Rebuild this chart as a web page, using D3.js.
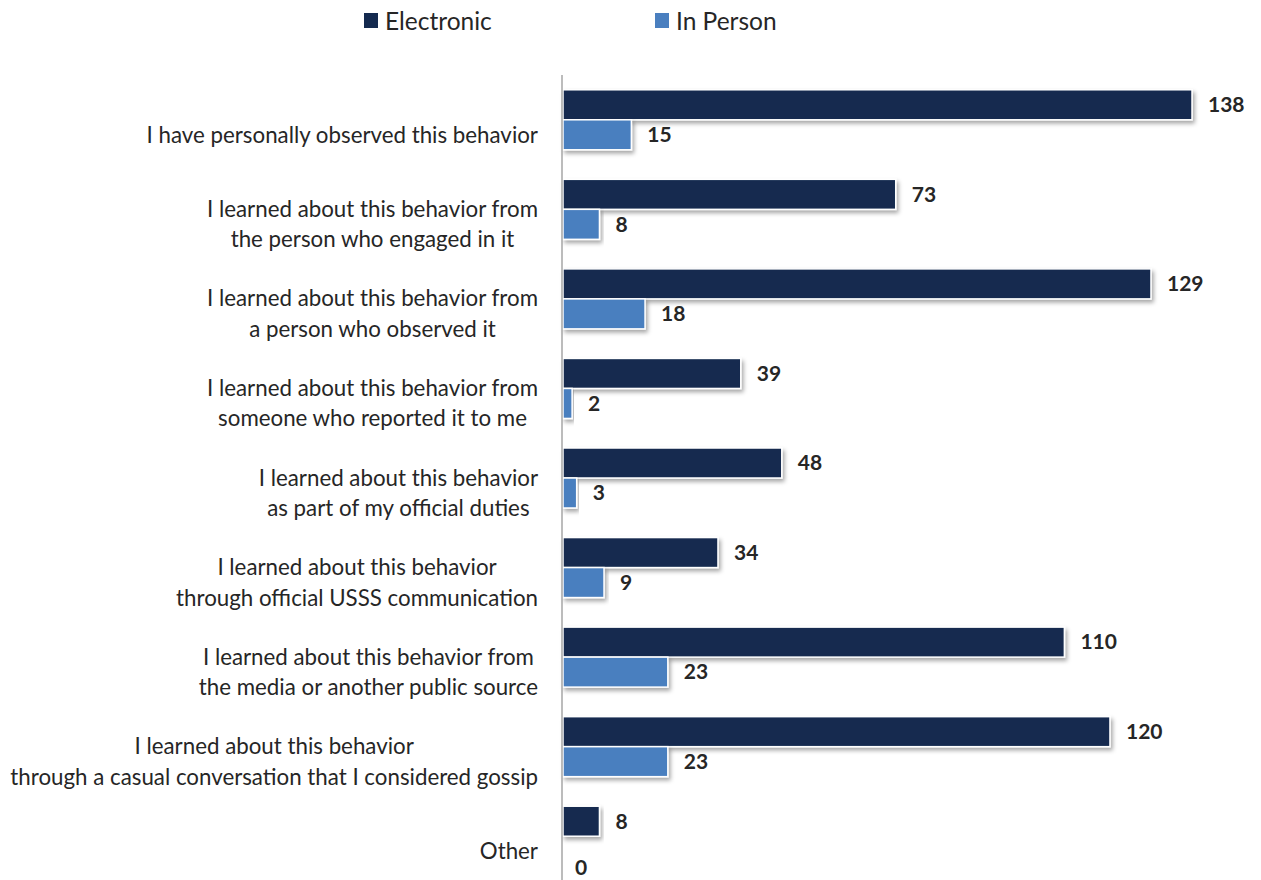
<!DOCTYPE html>
<html>
<head>
<meta charset="utf-8">
<script src="https://cdn.jsdelivr.net/npm/d3@7/dist/d3.min.js"></script>
<style>
  html, body { margin: 0; padding: 0; background: #ffffff; }
  svg { display: block; }
  text { font-family: Lato, "Open Sans", sans-serif; fill: #262626; }
</style>
</head>
<body>
<svg id="chart" width="1261" height="880"></svg>
<script>
// Response categories (each entry is a list of the label's lines)
const categories = [
  ["I have personally observed this behavior"],
  ["I learned about this behavior from", "the person who engaged in it"],
  ["I learned about this behavior from", "a person who observed it"],
  ["I learned about this behavior from", "someone who reported it to me"],
  ["I learned about this behavior", "as part of my official duties"],
  ["I learned about this behavior", "through official USSS communication"],
  ["I learned about this behavior from", "the media or another public source"],
  ["I learned about this behavior", "through a casual conversation that I considered gossip"],
  ["Other"]
];
const seriesNames = ["Electronic", "In Person"];
const electronic = [138, 73, 129, 39, 48, 34, 110, 120, 8];
const inPerson = [15, 8, 18, 2, 3, 9, 23, 23, 0];

const colors = { "Electronic": "#142a4f", "In Person": "#4a7fbf" };

const rows = categories.map((c, i) => ({
  key: i,
  lines: c,
  values: [
    { series: "Electronic", value: electronic[i] },
    { series: "In Person", value: inPerson[i] }
  ]
}));

const svg = d3.select("#chart");

// drop shadow for the bars
const defs = svg.append("defs");
const f = defs.append("filter").attr("id", "shadow")
  .attr("x", "-5%").attr("y", "-20%").attr("width", "115%").attr("height", "160%");
f.append("feDropShadow").attr("dx", 2).attr("dy", 3).attr("stdDeviation", 2)
  .attr("flood-color", "#000").attr("flood-opacity", 0.35);

const x0 = 563;
const x = d3.scaleLinear().domain([0, 140]).range([x0, x0 + 140 * 4.558]);
const y = d3.scaleBand().domain(rows.map(r => r.key)).range([75, 881]).padding(0);
const ySub = d3.scaleBand().domain(seriesNames).range([0, 60]);
const bandOffset = (y.bandwidth() - 60) / 2;

// bars
const groups = svg.append("g").selectAll("g.row").data(rows).join("g")
  .attr("class", "row")
  .attr("transform", r => `translate(0,${y(r.key) + bandOffset})`);

groups.selectAll("rect").data(r => r.values).join("rect")
  .attr("x", x(0))
  .attr("y", d => ySub(d.series))
  .attr("width", d => Math.max(0, x(d.value) - x(0)))
  .attr("height", ySub.bandwidth())
  .attr("fill", d => colors[d.series])
  .attr("stroke", "#ffffff")
  .attr("stroke-width", 1.5)
  .attr("filter", "url(#shadow)");

// value labels (an empty bar gets its label set just below the bar slot)
groups.selectAll("text.val").data(r => r.values).join("text")
  .attr("class", "val")
  .attr("x", d => x(d.value) + (d.value === 0 ? 12 : 16))
  .attr("y", d => ySub(d.series) + ySub.bandwidth() / 2 + (d.value === 0 ? 16 : 0))
  .attr("dy", "0.35em")
  .style("font-weight", "bold")
  .style("font-size", "21px")
  .text(d => d.value);

// vertical axis line
svg.append("line")
  .attr("x1", x0 - 1).attr("x2", x0 - 1)
  .attr("y1", 75).attr("y2", 880)
  .attr("stroke", "#a6a6a6").attr("stroke-width", 1.5);

// category labels: lines centred on each other, block right edge aligned
const labelRight = 538;
const labelSize = 22.3;
const lineH = 30.5;
const labels = svg.append("g").selectAll("g.lab").data(rows).join("g").attr("class", "lab");
labels.each(function (r) {
  const g = d3.select(this);
  const cy = y(r.key) + y.bandwidth() / 2 + 15;
  const n = r.lines.length;
  const texts = g.selectAll("text").data(r.lines).join("text")
    .style("font-size", labelSize + "px")
    .attr("y", (d, i) => cy + (i - (n - 1) / 2) * lineH)
    .attr("dy", "0.35em")
    .attr("text-anchor", "middle")
    .text(d => d);
  let maxW = 0;
  texts.each(function () { maxW = Math.max(maxW, this.getComputedTextLength()); });
  texts.attr("x", labelRight - maxW / 2);
});

// legend
const legendPos = [{ name: "Electronic", x: 364 }, { name: "In Person", x: 655 }];
const legend = svg.append("g").selectAll("g").data(legendPos).join("g")
  .attr("transform", d => `translate(${d.x},13)`);
legend.append("rect").attr("width", 14).attr("height", 15)
  .attr("fill", d => colors[d.name]);
legend.append("text").attr("x", 21).attr("y", 8).attr("dy", "0.35em")
  .style("font-size", "24.5px").text(d => d.name);
</script>
</body>
</html>
